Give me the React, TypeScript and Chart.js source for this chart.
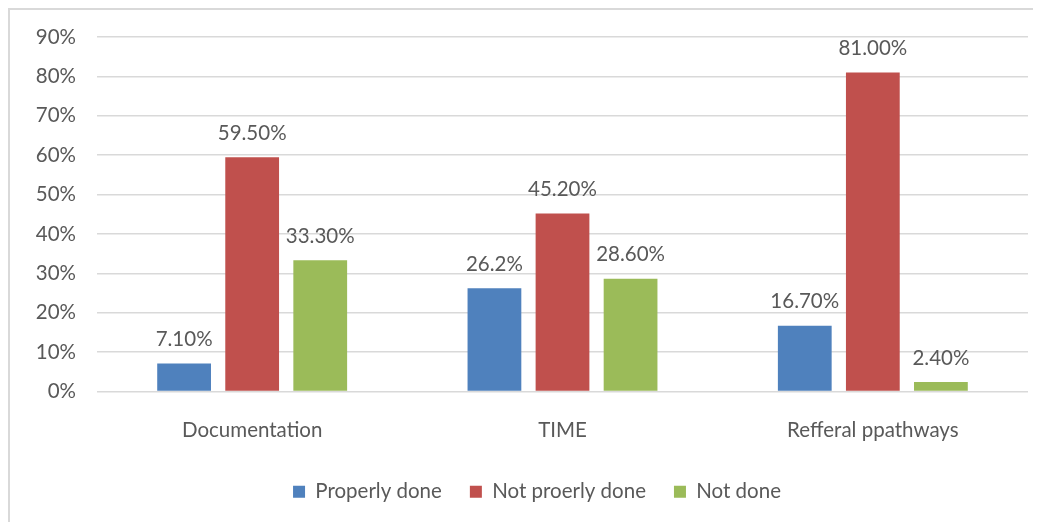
import React, { useEffect, useRef } from "react";
import { Chart, registerables } from "chart.js";

Chart.register(...registerables);

const categories = ["Documentation", "TIME", "Refferal ppathways"];
const seriesNames = ["Properly done", "Not proerly done", "Not done"];
const properlyDone = [7.1, 26.2, 16.7];
const notProperlyDone = [59.5, 45.2, 81.0];
const notDone = [33.3, 28.6, 2.4];
const properlyDoneLabels = ["7.10%", "26.2%", "16.70%"];
const notProperlyDoneLabels = ["59.50%", "45.20%", "81.00%"];
const notDoneLabels = ["33.30%", "28.60%", "2.40%"];
const yTicks = [0, 10, 20, 30, 40, 50, 60, 70, 80, 90];

const colors = ["#4F81BD", "#C0504D", "#9BBB59"];
const FONT = "Lato, 'Open Sans', sans-serif";
const TEXT = "#595959";
const FS = 20.5;

const valueLabelPlugin = {
  id: "valueLabels",
  afterLayout(chart: any) {
    const lg = chart.legend;
    if (lg) {
      lg.left += 18;
      lg.right += 18;
    }
  },
  afterDatasetsDraw(chart: any) {
    const ctx = chart.ctx;
    const labelSets = [properlyDoneLabels, notProperlyDoneLabels, notDoneLabels];
    ctx.save();
    ctx.font = `${FS}px ${FONT}`;
    ctx.fillStyle = TEXT;
    ctx.textAlign = "center";
    ctx.textBaseline = "middle";
    chart.data.datasets.forEach((_ds: any, di: number) => {
      const meta = chart.getDatasetMeta(di);
      meta.data.forEach((el: any, i: number) => {
        ctx.fillText(labelSets[di][i], el.x, el.y - 24);
      });
    });
    ctx.restore();
  },
};

export default function App() {
  const ref = useRef<HTMLCanvasElement | null>(null);
  useEffect(() => {
    if (!ref.current) return;
    const chart = new Chart(ref.current, {
      type: "bar",
      data: {
        labels: categories,
        datasets: [properlyDone, notProperlyDone, notDone].map((d, i) => ({
          label: seriesNames[i],
          data: d,
          backgroundColor: colors[i],
          borderWidth: 0,
          categoryPercentage: 0.658,
          barPercentage: 0.79,
        })),
      },
      options: {
        animation: false,
        responsive: false,
        layout: { padding: { left: 0, right: 13, top: 27, bottom: 10 } },
        scales: {
          x: {
            grid: { display: false, drawTicks: false },
            border: { display: false },
            afterFit(scale: any) {
              scale.height = 62;
              scale.paddingLeft = 0;
              scale.paddingRight = 0;
            },
            ticks: { color: TEXT, font: { family: FONT, size: FS }, padding: 27 },
          },
          y: {
            min: 0,
            max: 90,
            afterFit(scale: any) {
              scale.width = 87;
              scale.paddingTop = 0;
              scale.paddingBottom = 0;
            },
            afterBuildTicks(scale: any) {
              scale.ticks = yTicks.map((v) => ({ value: v }));
            },
            grid: { color: "#D9D9D9", drawTicks: false, lineWidth: 1.5 },
            border: { display: false },
            ticks: {
              color: TEXT,
              font: { family: FONT, size: FS },
              padding: 21,
              callback: (v: any) => `${v}%`,
            },
          },
        },
        plugins: {
          legend: {
            position: "bottom",
            labels: {
              color: TEXT,
              font: { family: FONT, size: FS },
              boxWidth: 12,
              boxHeight: 12,
              padding: 28,
            },
          },
          tooltip: { enabled: false },
        },
      },
      plugins: [valueLabelPlugin],
    });
    return () => chart.destroy();
  }, []);
  return (
    <div
      style={{
        width: 1031,
        height: 512,
        borderTop: "2px solid #D9D9D9",
        borderLeft: "2px solid #D9D9D9",
        background: "#fff",
      }}
    >
      <canvas ref={ref} width={1031} height={512} style={{ display: "block" }} />
    </div>
  );
}
